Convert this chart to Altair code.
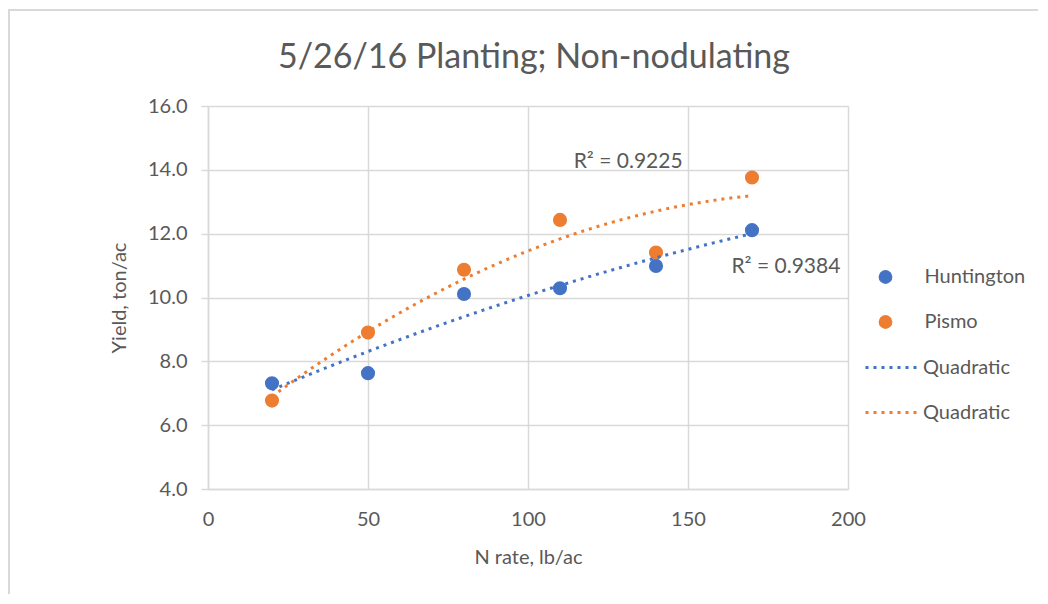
import altair as alt
import pandas as pd

# ---- data ----
n_rate = [20, 50, 80, 110, 140, 170]
huntington = [7.31, 7.63, 10.11, 10.29, 10.99, 12.11]
pismo = [6.77, 8.90, 10.87, 12.43, 11.41, 13.76]
series_names = ["Huntington", "Pismo"]
colors = ["#4472C4", "#ED7D31"]
r2_text = ["R² = 0.9225", "R² = 0.9384"]
r2_x = [131.3, 180.6]
r2_y = [14.24, 10.96]
x_ticks = [0, 50, 100, 150, 200]
y_ticks = [4, 6, 8, 10, 12, 14, 16]

rows = []
for name, vals in zip(series_names, [huntington, pismo]):
    for x, y in zip(n_rate, vals):
        rows.append({"x": x, "y": y, "series": name})
df = pd.DataFrame(rows)
lab = pd.DataFrame({"text": r2_text, "x": r2_x, "y": r2_y})

FONT = "Lato"
GREY = "#595959"
GRID = "#d9d9d9"

xscale = alt.Scale(domain=[0, 200], nice=False, zero=False)
yscale = alt.Scale(domain=[4, 16], nice=False, zero=False)

xaxis = alt.Axis(values=x_ticks, title="N rate, lb/ac", grid=True, ticks=False,
                 labelFlush=False, labelPadding=20, titlePadding=18)
yaxis = alt.Axis(values=y_ticks, format=".1f", title="Yield, ton/ac", grid=True,
                 labelFlush=False, ticks=True, tickSize=7, labelPadding=14, titlePadding=18)

base = alt.Chart(df)

points = base.mark_circle(size=200, opacity=1).encode(
    x=alt.X("x:Q", scale=xscale, axis=xaxis),
    y=alt.Y("y:Q", scale=yscale, axis=yaxis),
    color=alt.Color("series:N",
                    scale=alt.Scale(domain=series_names, range=colors),
                    legend=alt.Legend(title=None, orient="none", legendX=667.5, legendY=161,
                                      symbolType="circle", symbolSize=190,
                                      labelOffset=29, rowPadding=25, padding=0,
                                      labelFontSize=20, labelFont=FONT, labelColor=GREY,
                                      symbolStrokeWidth=0, symbolOpacity=1)),
)

lines = base.transform_regression(
    "x", "y", groupby=["series"], method="poly", order=2, extent=[20, 170]
).mark_line(strokeWidth=3, strokeDash=[3, 5]).encode(
    x=alt.X("x:Q", scale=xscale),
    y=alt.Y("y:Q", scale=yscale),
    stroke=alt.Stroke("series:N",
                      scale=alt.Scale(domain=series_names, range=colors),
                      legend=alt.Legend(title=None, orient="none", legendX=656, legendY=234,
                                        symbolType="stroke", symbolSize=2704,
                                        symbolDash=[3, 5], symbolStrokeWidth=3,
                                        labelExpr="'Quadratic'",
                                        labelOffset=4, rowPadding=7, padding=0,
                                        labelFontSize=20, labelFont=FONT, labelColor=GREY)),
)

labels = alt.Chart(lab).mark_text(font=FONT, fontSize=21, color=GREY, align="center",
                                  baseline="middle").encode(
    x=alt.X("x:Q", scale=xscale),
    y=alt.Y("y:Q", scale=yscale),
    text="text:N",
)

border_data = alt.Data(values=[{"a": 1}])
border_left = alt.Chart(border_data).mark_rule(color=GRID, strokeWidth=2).encode(
    x=alt.value(-199), y=alt.value(-96), y2=alt.value(600))
border_top = alt.Chart(border_data).mark_rule(color=GRID, strokeWidth=2).encode(
    x=alt.value(-200), x2=alt.value(900), y=alt.value(-96))

chart = alt.layer(border_left, border_top, points, lines, labels).resolve_legend(
    color="independent", stroke="independent"
).properties(
    width=640, height=383,
    title=alt.TitleParams("5/26/16 Planting; Non-nodulating", font=FONT, fontSize=34,
                          fontWeight="normal", color=GREY, anchor="middle", offset=0,
                          dy=66, dx=6),
    autosize=alt.AutoSizeParams(type="none"),
    padding={"left": 200, "top": 98, "right": 190, "bottom": 105},
    background="white",
).configure_view(stroke=None).configure_axis(
    gridColor=GRID, gridWidth=1.5, domainColor=GRID, domainWidth=1.5, tickColor=GRID,
    tickWidth=1.5, labelFont=FONT, labelFontSize=20, labelColor=GREY,
    titleFont=FONT, titleFontSize=20, titleColor=GREY, titleFontWeight="normal",
)

chart.save("out.html", embed_options={"renderer": "svg", "actions": False})
